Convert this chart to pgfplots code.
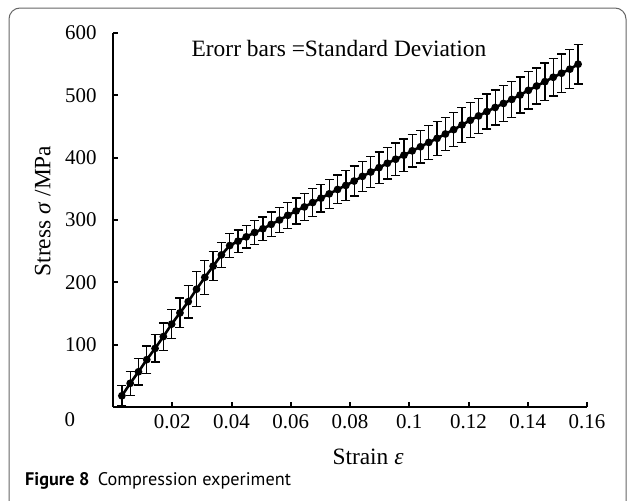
\documentclass[border=0pt]{standalone}
\usepackage{pgfplots}
\usepackage{pgfplotstable}
\pgfplotsset{compat=1.18}
\usepackage{fontspec}
\setmainfont{Liberation Serif}
\newfontfamily\capfont{PT Sans}

\pgfplotstableread{
x y e
0.0030 18 16
0.0058 38 19
0.0086 56.5 21
0.0114 76 22
0.0142 94 22
0.0170 113 22
0.0198 133 23
0.0226 151 24
0.0254 169 26
0.0282 189 28
0.0310 208 27
0.0338 226 23
0.0366 244 20
0.0394 259 19
0.0422 266 18
0.0450 273 18
0.0478 280 19
0.0506 286 19
0.0534 293 20
0.0562 300 20
0.0590 307.5 21
0.0618 314.5 21
0.0646 321 22
0.0674 328 22
0.0702 335 22
0.0730 342 23
0.0758 349 23
0.0786 355.5 24
0.0814 362.5 24
0.0842 370 24
0.0870 377 25
0.0898 384 25
0.0926 391 25
0.0954 397.5 26
0.0982 404 26
0.1010 411 26
0.1038 417.5 26
0.1066 424.5 27
0.1094 431 27
0.1122 438 27
0.1150 445 27
0.1178 452.5 28
0.1206 460 28
0.1234 467 28
0.1262 474 28
0.1290 480.5 28
0.1318 487 29
0.1346 493.5 29
0.1374 500.5 29
0.1402 508 30
0.1430 515 29
0.1458 522 30
0.1486 529 30
0.1514 535.5 31
0.1542 542 31
0.1570 550 32
}\stressdata

\begin{document}
\begin{tikzpicture}
\draw[black!60, line width=1bp, rounded corners=11bp] (9bp,-640bp) -- (9bp,-8bp) -- (626bp,-8bp) -- (626bp,-640bp);
\begin{axis}[
  at={(113bp,-407bp)}, anchor=south west,
  scale only axis, width=474bp, height=374bp,
  xmin=0, xmax=0.16, ymin=0, ymax=600,
  axis x line*=bottom, axis y line*=left,
  axis line style={-, line width=2.6bp, black},
  x axis line style={-}, y axis line style={-},
  tick align=inside, major tick length=5bp,
  tick style={line width=2bp, black},
  xtick={0.02,0.04,0.06,0.08,0.1,0.12,0.14,0.16},
  xticklabels={0.02,0.04,0.06,0.08,0.1,0.12,0.14,0.16},
  ytick={100,200,300,400,500,600},
  extra y ticks={0}, extra y tick labels={0},
  extra y tick style={yticklabel style={yshift=-13bp, xshift=-21.5bp}},
  /pgf/number format/assume math mode=true,
  tick label style={font=\fontsize{21}{24}\selectfont},
  yticklabel style={xshift=-13bp},
  xticklabel style={yshift=-4bp},
  label style={font=\fontsize{23.5}{27}\selectfont},
  xlabel={Strain \textit{ε}},
  ylabel={Stress \textit{σ} /MPa},
  xlabel style={at={(axis description cs:0.538,-0.134)}, anchor=center},
  ylabel style={at={(axis description cs:-0.148,0.524)}, anchor=center},
  clip=false,
]
\addplot[black, line width=2.6bp, mark=*, mark size=2.5bp,
  error bars/.cd, y dir=both, y explicit,
  error bar style={line width=1.3bp, black},
  error mark options={rotate=90, mark size=4.5bp, line width=1.3bp, black}]
  table[x=x, y=y, y error=e] {\stressdata};
\end{axis}
\node[font=\fontsize{23.5}{27}\selectfont, anchor=center] at (339bp,-48bp) {Erorr bars =Standard Deviation};
\node[font=\capfont\fontsize{18.3}{21}\selectfont, anchor=base west, inner sep=0pt] at (25bp,-485bp) {\textbf{Figure 8}\hspace{0.45em}Compression experiment};
\pgfresetboundingbox
\useasboundingbox (0bp,0bp) rectangle (627bp,-501bp);
\end{tikzpicture}
\end{document}
